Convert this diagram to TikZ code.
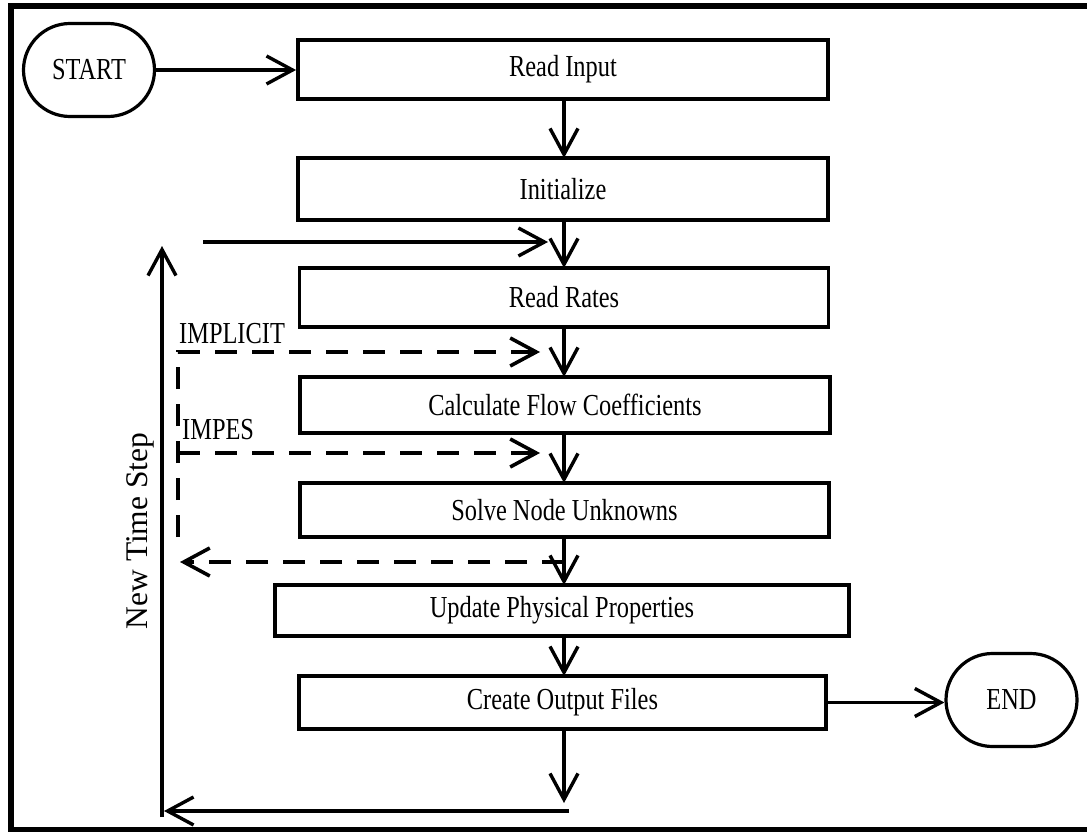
\documentclass[tikz,border=0pt]{standalone}
\usepackage{fontspec}
\setmainfont{Liberation Serif}
\newfontfamily\cf[FakeStretch=0.8]{Liberation Serif}
\usetikzlibrary{arrows.meta,shapes.misc}
\begin{document}
\begin{tikzpicture}[x=1pt,y=-1pt,
  >={Straight Barb[length=26pt,width=28pt]},
  txt/.style={font=\cf\fontsize{30.5}{36}\selectfont},
  box/.style={draw,line width=3.8pt,inner sep=0pt,txt},
  term/.style={draw,rounded rectangle,line width=3.2pt,inner sep=0pt,minimum width=131pt,minimum height=93pt,txt},
  flow/.style={line width=3.4pt,->},
  dflow/.style={line width=3.6pt,dash pattern=on 22pt off 15pt,->},
  lbl/.style={txt,inner sep=0pt}]
\useasboundingbox (0,0) rectangle (1087,832);
\draw[line width=6pt] (1095,6.5) -- (11,6.5) -- (11,830) -- (1095,830);

\node[term] (start) at (89,70) {START};
\node[term] (end) at (1011.5,700) {END};

\node[box,minimum width=530pt,minimum height=59pt] (readin) at (563,69.5) {Read Input};
\node[box,minimum width=530pt,minimum height=62pt] (init) at (563,189) {Initialize};
\node[box,minimum width=529pt,minimum height=59pt] (rates) at (564,297.5) {Read Rates};
\node[box,minimum width=530pt,minimum height=56pt] (calc) at (565,405) {Calculate Flow Coefficients};
\node[box,minimum width=529pt,minimum height=54pt] (solve) at (564.5,510) {Solve Node Unknowns};
\node[box,minimum width=574pt,minimum height=51pt] (update) at (562,610.5) {Update Physical Properties};
\node[box,minimum width=527pt,minimum height=53pt] (output) at (562.5,702.5) {Create Output Files};

\node[lbl,anchor=base west] (implicit) at (179,343) {IMPLICIT};
\node[lbl,anchor=base west] (impes) at (182,439) {IMPES};
\node[lbl,font=\fontsize{31.5}{36}\selectfont,rotate=90,anchor=base] (nts) at (147,531) {New Time Step};

% coordinates
\def\cx{564}
\coordinate (a1) at (\cx,99);
\coordinate (a1e) at (\cx,158);
\coordinate (a2) at (\cx,220);
\coordinate (a2e) at (\cx,268);
\coordinate (a3) at (\cx,327);
\coordinate (a3e) at (\cx,377);
\coordinate (a4) at (\cx,433);
\coordinate (a4e) at (\cx,483);
\coordinate (a5) at (\cx,537);
\coordinate (a5e) at (\cx,585);
\coordinate (a6) at (\cx,636);
\coordinate (a6e) at (\cx,676);
\coordinate (a7) at (\cx,729);
\coordinate (a7e) at (\cx,803);
\coordinate (ntsin) at (203,242);
\coordinate (ntsine) at (548,242);
\coordinate (impl) at (178,352);
\coordinate (imple) at (540,352);
\coordinate (imps) at (178,453);
\coordinate (impse) at (540,453);
\coordinate (dvend) at (178,537);
\coordinate (ret) at (\cx,562);
\coordinate (rete) at (180,562);
\coordinate (bot) at (569,811);
\coordinate (bote) at (164,811);
\coordinate (up) at (162,817);
\coordinate (upe) at (162,246);

\draw[flow] (start.east) -- (start.east -| readin.west);
\draw[flow] (a1) -- (a1e);
\draw[flow] (a2) -- (a2e);
\draw[flow] (a3) -- (a3e);
\draw[flow] (a4) -- (a4e);
\draw[flow] (a5) -- (a5e);
\draw[flow] (a6) -- (a6e);
\draw[flow] (a7) -- (a7e);
\draw[flow] (output.east) -- (output.east -| end.west);
\draw[flow] (ntsin) -- (ntsine);
\draw[flow] (bot) -- (bote);
\draw[flow] (up) -- (upe);

\draw[dflow] (dvend) -- (impl) -- (imple);
\draw[dflow] (imps) -- (impse);
\draw[dflow] (ret) -- (rete);
\end{tikzpicture}
\end{document}
